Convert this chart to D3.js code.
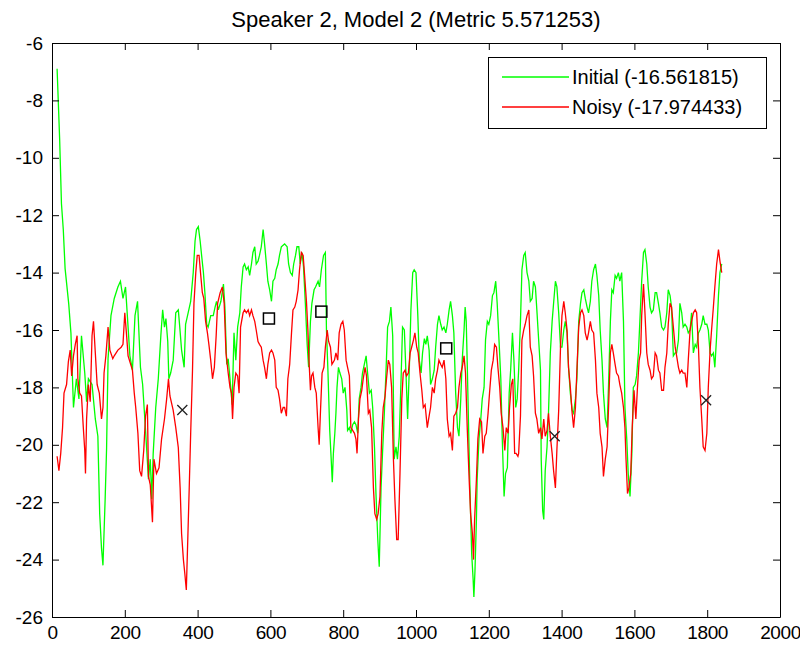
<!DOCTYPE html>
<html>
<head>
<meta charset="utf-8">
<script src="https://cdn.jsdelivr.net/npm/d3@7"></script>
<style>
  html, body { margin: 0; padding: 0; background: #fff; }
  svg { display: block; font-family: "Liberation Sans", Arial, sans-serif; }
</style>
</head>
<body>
<svg id="chart" width="800" height="648"></svg>
<script>
const chartTitle = "Speaker 2, Model 2 (Metric 5.571253)";
const seriesNames = ["Initial (-16.561815)", "Noisy (-17.974433)"];
const xTicks = [0, 200, 400, 600, 800, 1000, 1200, 1400, 1600, 1800, 2000];
const yTicks = [-26, -24, -22, -20, -18, -16, -14, -12, -10, -8, -6];

const initialSeries = [
[14,-6.9],[21,-9.35],[26,-11.6],[31,-12.5],[36,-13.86],[46,-15.1],[52,-16.1],[59,-18.7],[67,-17.7],[74,-18.4],[81,-16.2],[90,-17.5],[95,-18.5],[100,-17.7],[110,-17.9],[119,-19.1],[126,-19.7],[131,-22.4],[136,-23.6],[140,-24.2],[146,-21.9],[150,-20.1],[154,-17.0],[162,-15.5],[171,-14.9],[181,-14.5],[188,-14.3],[195,-14.9],[202,-14.5],[209,-15.9],[214,-16.9],[221,-17.4],[228,-15.5],[235,-15.0],[243,-17.3],[249,-17.9],[257,-19.5],
[265,-21.2],[270,-20.5],[274,-21.9],[278,-20.3],[285,-18.7],[292,-17.7],[299,-16.2],[304,-15.3],[309,-15.9],[313,-15.6],[318,-16.4],[321,-17.7],[326,-17.5],[333,-17.05],[340,-15.4],[347,-15.3],[351,-15.9],[356,-16.7],[363,-17.3],[367,-15.8],[374,-15.4],[381,-15.0],[388,-14.0],[393,-12.9],[397,-12.5],[402,-12.4],[407,-12.9],[411,-13.4],[416,-14.0],[420,-14.7],[425,-15.8],[429,-15.9],[436,-15.5],[443,-15.5],[448,-15.2],[452,-15.0],[457,-15.3],[464,-15.0],[471,-14.4],[475,-15.2],[480,-17.2],[484,-17.0],[489,-17.7],[495,-18.6],[500,-16.1],[505,-17.05],[510,-15.9],
[516,-15.4],[520,-14.5],[525,-13.8],[529,-13.7],[534,-13.9],[539,-13.8],[543,-14.1],[548,-13.7],[552,-13.3],[557,-13.1],[561,-13.7],[566,-13.6],[570,-13.4],[575,-13.1],[580,-12.5],[584,-13.0],[589,-13.7],[593,-14.3],[598,-14.6],[603,-15.0],[607,-14.3],[612,-14.2],[616,-13.9],[621,-13.7],[625,-13.4],[630,-13.1],[639,-13.0],[646,-13.1],[650,-13.7],[655,-14.0],[660,-14.1],[664,-13.7],[669,-13.4],[673,-13.1],[678,-13.1],[682,-13.7],[687,-13.3],[691,-13.8],[696,-15.07],[701,-16.5],[705,-17.3],[710,-15.7],[714,-15.07],[720,-14.6],[724,-14.5],[731,-14.3],[735,-14.5],[740,-13.9],[746,-13.4],[751,-13.3],[754,-16.0],[758,-17.4],[763,-19.5],[767,-20.5],[770,-21.3],
[773,-20.3],[777,-19.6],[780,-18.9],[783,-18.0],[787,-17.3],[791,-17.5],[796,-17.7],[800,-18.2],[805,-18.0],[810,-18.8],[812,-19.5],[817,-19.4],[821,-19.6],[826,-19.3],[831,-19.2],[835,-19.3],[840,-19.6],[844,-18.4],[849,-18.0],[853,-17.5],[858,-17.2],[863,-16.9],[867,-17.5],[872,-18.2],[877,-18.1],[881,-18.7],[886,-20.1],[890,-21.7],[895,-23.3],[899,-24.25],[904,-21.5],[908,-20.3],[913,-18.9],[918,-17.3],[922,-15.9],[927,-15.7],[931,-15.2],[936,-16.2],[940,-20.5],[945,-20.07],[949,-20.5],[954,-19.7],[959,-17.7],[963,-15.9],[968,-16.0],[973,-17.7],[977,-19.1],[982,-17.2],[986,-15.3],[991,-14.0],[995,-13.9],[1000,-14.0],[1005,-15.5],[1009,-17.05],[1014,-17.5],[1018,-16.8],[1023,-16.3],
[1027,-16.5],[1031,-16.2],[1036,-16.7],[1040,-17.9],[1045,-17.7],[1050,-17.4],[1054,-16.6],[1059,-15.8],[1063,-15.5],[1068,-15.8],[1072,-16.0],[1077,-15.9],[1082,-16.1],[1086,-15.8],[1091,-15.3],[1095,-15.0],[1100,-15.5],[1104,-16.1],[1109,-18.2],[1114,-19.4],[1118,-19.7],[1123,-18.4],[1127,-17.05],[1132,-16.0],[1135,-15.2],[1138,-15.7],[1141,-17.3],[1144,-19.1],[1147,-20.9],[1150,-22.4],[1153,-23.8],[1157,-24.7],[1159,-25.3],[1162,-24.4],[1166,-22.6],[1168,-21.2],[1173,-19.8],[1178,-19.1],[1182,-18.4],[1187,-18.0],[1191,-16.35],[1196,-15.7],[1200,-15.8],[1205,-15.5],[1210,-14.8],[1214,-14.7],[1219,-14.3],[1223,-15.07],[1228,-16.35],[1233,-17.7],[1237,-19.8],[1242,-21.8],[1246,-21.0],[1251,-20.8],[1256,-18.2],[1260,-17.4],[1265,-16.1],[1269,-17.05],[1274,-18.7],[1278,-18.4],
[1282,-17.4],[1287,-15.7],[1291,-13.9],[1296,-13.4],[1300,-13.3],[1305,-14.0],[1310,-14.3],[1314,-15.0],[1319,-14.9],[1323,-14.3],[1328,-14.5],[1332,-15.3],[1337,-16.35],[1342,-17.4],[1344,-20.5],[1348,-22.3],[1351,-22.6],[1355,-20.9],[1360,-20.07],[1364,-18.9],[1369,-16.8],[1374,-15.7],[1378,-15.07],[1383,-14.3],[1387,-14.5],[1392,-15.4],[1397,-16.6],[1401,-16.6],[1406,-16.0],[1410,-15.7],[1415,-16.1],[1419,-17.3],[1424,-18.2],[1429,-18.8],[1433,-18.9],[1438,-18.4],[1442,-17.7],[1447,-15.7],[1452,-15.07],[1456,-14.7],[1461,-14.6],[1465,-14.9],[1470,-15.2],[1474,-15.4],[1479,-15.0],[1483,-14.3],[1488,-13.9],[1493,-13.7],[1497,-14.1],[1502,-14.8],[1506,-16.0],[1511,-17.05],[1515,-18.2],[1520,-19.1],[1525,-19.4],[1529,-17.9],[1534,-15.7],
[1538,-14.6],[1542,-14.7],[1547,-14.1],[1551,-14.2],[1556,-14.0],[1560,-14.3],[1565,-14.0],[1570,-15.7],[1574,-18.7],[1579,-19.8],[1583,-21.0],[1588,-21.8],[1593,-20.3],[1597,-18.0],[1602,-17.9],[1606,-17.6],[1611,-16.8],[1615,-15.7],[1620,-14.3],[1625,-13.3],[1629,-13.2],[1634,-13.7],[1638,-14.5],[1643,-15.2],[1647,-15.4],[1652,-15.3],[1657,-14.7],[1661,-14.7],[1666,-15.07],[1670,-15.4],[1675,-15.9],[1680,-16.0],[1684,-15.9],[1689,-15.4],[1693,-14.6],[1698,-14.8],[1702,-15.2],[1707,-16.9],[1712,-16.8],[1716,-16.8],[1721,-16.35],[1725,-15.07],[1730,-15.4],[1734,-15.9],[1739,-15.8],[1744,-15.9],[1748,-16.1],[1753,-16.0],[1757,-15.4],[1762,-16.8],[1767,-16.5],[1771,-16.6],[1776,-16.1],[1780,-16.0],[1785,-15.8],[1789,-15.5],[1794,-15.8],[1799,-15.8],[1803,-16.0],[1808,-16.8],[1812,-16.9],[1817,-16.8],[1821,-17.3],[1826,-16.2],[1831,-14.8],[1835,-14.0],[1840,-13.7]
];

const noisySeries = [
[14,-20.4],[19,-20.9],[24,-20.3],[29,-19.4],[33,-18.2],[40,-17.9],[45,-17.1],[50,-16.7],[54,-17.6],[59,-16.9],[64,-16.5],[69,-16.2],[71,-17.7],[76,-18.2],[81,-18.3],[86,-19.4],[90,-20.2],[92,-21.0],[95,-19.1],[100,-17.9],[105,-18.5],[110,-16.2],[114,-15.7],[119,-16.8],[124,-17.9],[130,-18.2],[136,-19.1],[140,-18.7],[143,-17.5],[148,-16.9],[154,-15.9],[159,-16.7],[167,-17.0],[171,-16.9],[181,-16.7],[190,-16.6],[195,-16.5],[200,-15.4],[205,-16.2],[209,-16.9],[221,-17.4],[226,-18.2],[230,-18.7],[236,-19.6],[241,-20.9],[246,-21.1],[252,-20.2],[257,-19.0],[262,-18.6],
[265,-21.1],[270,-21.4],[276,-22.7],[280,-20.5],[287,-21.0],[294,-20.8],[301,-19.8],[309,-19.1],[315,-18.4],[320,-17.7],[324,-18.3],[333,-18.8],[340,-19.4],[347,-20.1],[352,-21.5],[356,-23.1],[361,-24.0],[365,-24.5],[369,-25.06],[373,-23.3],[377,-21.5],[381,-19.6],[386,-17.4],[390,-15.07],[395,-14.0],[399,-13.4],[404,-13.4],[408,-14.0],[413,-14.7],[417,-14.9],[422,-15.7],[427,-16.1],[431,-16.5],[436,-17.05],[441,-17.7],[446,-17.3],[451,-16.2],[455,-15.07],[462,-14.7],[468,-14.5],[473,-15.07],[478,-16.8],[484,-17.5],[489,-18.0],[493,-18.2],[496,-19.1],[500,-18.0],[505,-17.5],[510,-17.6],[514,-18.2],
[518,-15.9],[525,-15.4],[529,-15.3],[534,-15.4],[539,-15.3],[543,-15.5],[548,-15.3],[552,-15.5],[557,-15.7],[561,-16.0],[566,-16.4],[570,-16.5],[575,-16.6],[580,-17.05],[584,-17.3],[589,-17.7],[593,-17.2],[598,-16.8],[603,-16.7],[607,-16.8],[612,-17.05],[616,-18.0],[621,-18.1],[625,-18.4],[630,-18.9],[635,-18.7],[639,-18.7],[644,-19.0],[648,-17.7],[653,-17.2],[658,-16.1],[662,-15.3],[667,-15.2],[671,-15.0],[676,-14.6],[680,-13.9],[685,-13.3],[690,-13.4],[694,-14.1],[699,-15.0],[703,-16.0],[706,-17.05],[710,-18.1],[713,-17.6],[717,-17.5],[722,-18.0],[726,-18.2],[731,-19.4],[734,-20.0],[738,-18.7],[742,-17.5],[747,-17.3],[751,-16.6],[756,-16.0],[760,-16.4],[765,-16.6],
[769,-17.2],[776,-17.05],[780,-16.8],[785,-17.05],[789,-16.1],[794,-15.8],[799,-15.7],[803,-16.0],[808,-17.05],[812,-17.3],[817,-17.6],[821,-19.4],[826,-19.5],[831,-19.6],[835,-19.8],[838,-20.3],[842,-19.1],[846,-18.4],[851,-18.1],[855,-17.7],[860,-17.3],[864,-17.6],[869,-18.9],[873,-18.8],[878,-19.4],[883,-21.5],[887,-22.4],[892,-22.6],[896,-22.4],[901,-21.8],[906,-19.6],[910,-18.7],[915,-18.3],[919,-17.7],[924,-17.05],[928,-17.2],[933,-18.0],[938,-20.5],[942,-21.9],[947,-23.3],[951,-23.3],[956,-21.0],[961,-18.4],[965,-17.5],[970,-17.4],[974,-17.6],[979,-17.5],[984,-16.8],[988,-16.6],[993,-16.35],[997,-16.1],[1002,-16.6],[1006,-16.8],[1011,-17.5],[1016,-18.1],[1020,-18.7],
[1025,-18.6],[1031,-19.4],[1036,-19.0],[1040,-18.7],[1045,-18.0],[1050,-18.2],[1054,-17.7],[1059,-17.4],[1063,-17.05],[1068,-17.2],[1072,-17.3],[1077,-17.05],[1082,-17.7],[1086,-19.1],[1091,-19.7],[1095,-19.6],[1100,-20.2],[1104,-19.0],[1109,-18.9],[1114,-18.7],[1118,-18.0],[1123,-17.5],[1127,-17.3],[1132,-16.9],[1136,-17.5],[1141,-19.5],[1146,-21.2],[1150,-22.4],[1155,-23.1],[1158,-24.0],[1161,-22.6],[1166,-21.2],[1170,-19.8],[1175,-19.1],[1180,-19.2],[1184,-20.3],[1189,-19.7],[1193,-19.6],[1198,-18.9],[1202,-18.2],[1207,-17.4],[1212,-17.05],[1216,-16.5],[1221,-16.6],[1225,-17.3],[1230,-18.0],[1234,-18.9],[1239,-19.4],[1244,-20.2],[1248,-19.4],[1253,-19.6],[1257,-18.7],[1262,-17.9],[1266,-17.7],[1271,-20.3],[1275,-20.3],[1280,-20.4],
[1282,-20.3],[1287,-19.0],[1291,-16.35],[1296,-16.0],[1300,-15.8],[1305,-15.5],[1310,-15.3],[1314,-16.6],[1319,-16.9],[1323,-17.6],[1328,-18.9],[1332,-19.1],[1337,-19.6],[1342,-19.4],[1346,-19.8],[1351,-19.1],[1355,-19.7],[1360,-19.5],[1364,-18.9],[1369,-19.7],[1374,-20.3],[1378,-20.9],[1383,-21.5],[1387,-20.2],[1392,-18.8],[1397,-16.6],[1401,-15.5],[1406,-15.0],[1410,-15.4],[1415,-16.0],[1419,-17.3],[1424,-18.0],[1429,-18.9],[1433,-19.4],[1438,-18.7],[1442,-17.4],[1447,-15.9],[1452,-15.4],[1456,-15.3],[1461,-15.5],[1465,-16.1],[1470,-16.35],[1474,-16.1],[1479,-15.7],[1483,-16.0],[1488,-16.1],[1493,-17.05],[1497,-18.2],[1502,-18.7],[1506,-19.6],[1511,-20.07],[1515,-21.1],[1520,-20.5],[1525,-20.07],[1529,-18.7],[1534,-16.8],
[1538,-16.5],[1542,-16.8],[1547,-17.2],[1551,-17.5],[1556,-17.6],[1560,-17.9],[1565,-18.2],[1570,-18.7],[1574,-19.4],[1577,-20.5],[1581,-21.7],[1585,-21.5],[1590,-21.0],[1594,-19.4],[1599,-18.1],[1604,-19.1],[1608,-18.1],[1613,-17.05],[1617,-16.8],[1620,-15.5],[1625,-14.4],[1629,-15.4],[1634,-16.8],[1638,-17.2],[1643,-17.4],[1647,-17.7],[1652,-17.6],[1657,-16.8],[1661,-16.9],[1666,-17.4],[1670,-17.5],[1675,-18.1],[1680,-18.1],[1684,-17.3],[1689,-16.8],[1693,-15.8],[1698,-15.07],[1702,-15.2],[1707,-15.9],[1712,-16.6],[1716,-16.9],[1721,-17.3],[1725,-17.5],[1730,-17.4],[1734,-17.5],[1739,-17.5],[1744,-18.0],[1748,-17.05],[1753,-16.0],[1757,-15.7],[1762,-15.4],[1767,-15.3],[1771,-15.4],[1776,-16.6],[1780,-18.0],[1785,-19.1],[1789,-20.07],[1794,-20.2],[1799,-19.6],[1803,-18.0],[1808,-16.7],[1812,-16.0],[1817,-15.2],[1821,-14.5],[1826,-13.7],[1831,-13.2],[1835,-13.6],[1840,-14.0]
];

const squareMarkers = [[596,-15.6],[740,-15.36],[1083,-16.64]];
const crossMarkers = [[358,-18.79],[1381,-19.7],[1797,-18.45]];

const seriesColors = ["#00ff00", "#ff0000"];

const svg = d3.select("#chart");
const plot = {left: 52, right: 780, top: 43, bottom: 617};
const x = d3.scaleLinear().domain([0, 2000]).range([plot.left, plot.right]);
const y = d3.scaleLinear().domain([-26, -6]).range([plot.bottom, plot.top]);

svg.append("rect").attr("width", 800).attr("height", 648).attr("fill", "#fff");

// lines
const line = d3.line().x(d => x(d[0])).y(d => y(d[1]));
[initialSeries, noisySeries].forEach((s, i) => {
  svg.append("path").datum(s)
    .attr("d", line)
    .attr("fill", "none")
    .attr("stroke", seriesColors[i])
    .attr("stroke-width", 1.3)
    .attr("stroke-linejoin", "miter");
});

// markers
svg.selectAll("rect.sq").data(squareMarkers).join("rect")
  .attr("class", "sq")
  .attr("x", d => x(d[0]) - 5.5).attr("y", d => y(d[1]) - 5.5)
  .attr("width", 11).attr("height", 11)
  .attr("fill", "none").attr("stroke", "#000").attr("stroke-width", 1.5);

const cross = svg.selectAll("g.cr").data(crossMarkers).join("g")
  .attr("class", "cr")
  .attr("transform", d => `translate(${x(d[0])},${y(d[1])})`);
cross.append("path").attr("d", "M-5,-5L5,5M-5,5L5,-5")
  .attr("stroke", "#222").attr("stroke-width", 1.3).attr("fill", "none");

// axes
const fontSize = 19;
const styleAxis = g => {
  g.selectAll("path.domain").attr("stroke", "#000").attr("stroke-width", 1);
  g.selectAll(".tick line").attr("stroke", "#000").attr("stroke-width", 1);
  g.selectAll(".tick text").attr("fill", "#000").attr("font-size", fontSize)
    .attr("font-family", '"Liberation Sans", Arial, sans-serif');
};
const tickLen = 7;
svg.append("g").attr("transform", `translate(0,${plot.bottom})`)
  .call(d3.axisBottom(x).tickValues(xTicks).tickSizeInner(-tickLen).tickSizeOuter(0).tickPadding(9).tickFormat(d3.format("d")))
  .call(styleAxis)
  .call(g => g.selectAll(".tick text").attr("letter-spacing", -0.4));
svg.append("g").attr("transform", `translate(0,${plot.top})`)
  .call(d3.axisTop(x).tickValues(xTicks).tickSizeInner(-tickLen).tickSizeOuter(0).tickFormat(""))
  .call(styleAxis);
svg.append("g").attr("transform", `translate(${plot.left},0)`)
  .call(d3.axisLeft(y).tickValues(yTicks).tickSizeInner(-tickLen).tickSizeOuter(0).tickPadding(9).tickFormat(d => d3.format("d")(d).replace("−", "-")))
  .call(styleAxis);
svg.append("g").attr("transform", `translate(${plot.right},0)`)
  .call(d3.axisRight(y).tickValues(yTicks).tickSizeInner(-tickLen).tickSizeOuter(0).tickFormat(""))
  .call(styleAxis);

// title
svg.append("text")
  .attr("x", (plot.left + plot.right) / 2).attr("y", 27)
  .attr("text-anchor", "middle")
  .attr("font-size", 22)
  .attr("fill", "#000")
  .text(chartTitle);

// legend
const lg = svg.append("g");
lg.append("rect").attr("x", 488.5).attr("y", 57.5).attr("width", 278).attr("height", 71)
  .attr("fill", "#fff").attr("stroke", "#000").attr("stroke-width", 1);
seriesNames.forEach((name, i) => {
  const ly = 77 + i * 30;
  lg.append("line").attr("x1", 502).attr("x2", 569).attr("y1", ly).attr("y2", ly)
    .attr("stroke", seriesColors[i]).attr("stroke-width", 1.3);
  lg.append("text").attr("x", 572).attr("y", ly + 7)
    .attr("font-size", 20).attr("fill", "#000").text(name);
});
</script>
</body>
</html>
